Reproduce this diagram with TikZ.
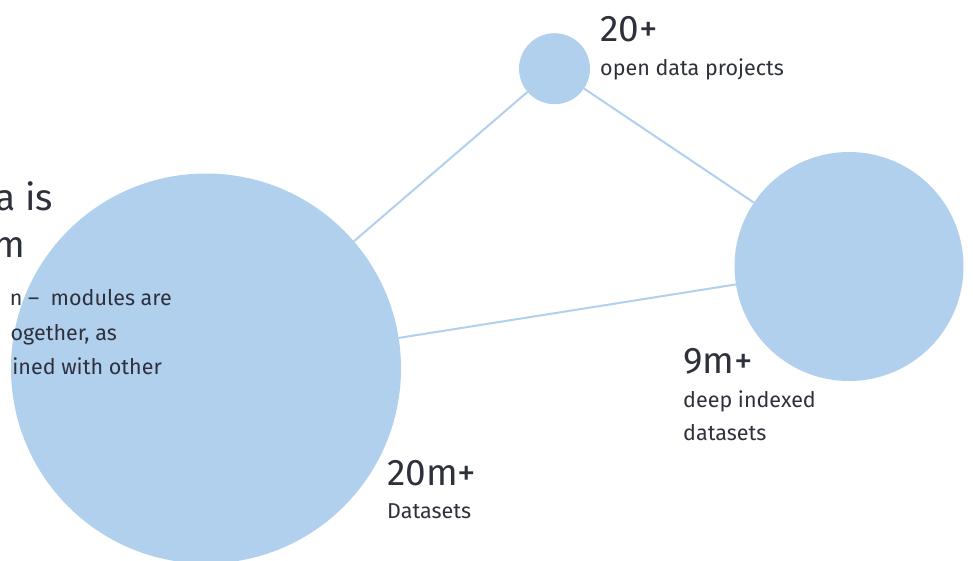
\documentclass[tikz,border=0pt]{standalone}
\usepackage{fontspec}
\setmainfont{Fira Sans}
\definecolor{cblue}{HTML}{B1D0ED}
\definecolor{ink}{HTML}{2E303C}
\begin{document}
\begin{tikzpicture}[x=1pt,y=-1pt,
  bubble/.style={circle,fill=cblue,inner sep=0pt},
  link/.style={draw=cblue,line width=2pt},
  big/.style={text=ink,font=\fontsize{37}{42}\selectfont,inner sep=0pt},
  small/.style={text=ink,font=\fontsize{21.5}{26}\selectfont,inner sep=0pt}]
\useasboundingbox (0,0) rectangle (973,561);
\node[bubble,minimum size=390pt] (bigc) at (206,368.5) {};
\node[bubble,minimum size=71pt] (smallc) at (554.5,68.7) {};
\node[bubble,minimum size=229pt] (rightc) at (849,266.5) {};
\draw[link] (bigc) -- (smallc);
\draw[link] (bigc) -- (rightc);
\draw[link] (smallc) -- (rightc);
% left text block (cut by the page edge)
\node[big,anchor=base east] (t1) at (53,211) {a is};
\node[big,anchor=base east] (t2) at (25,257) {m};
\node[small,anchor=base east] (t3) at (172,305) {n –\ \ modules are};
\node[small,anchor=base east] (t4) at (117,340) {ogether, as};
\node[small,anchor=base east] (t5) at (162,374) {ined with other};
% labels
\node[big,anchor=base west] (n1) at (600,42) {20+};
\node[small,anchor=base west] (l1) at (600,76) {open data projects};
\node[big,anchor=base west] (n2) at (683,373) {9m+};
\node[small,anchor=base west] (l2a) at (683,407) {deep indexed};
\node[small,anchor=base west] (l2b) at (683,440) {datasets};
\node[big,anchor=base west] (n3) at (387,485) {20m+};
\node[small,anchor=base west] (l3) at (387,518) {Datasets};
\end{tikzpicture}
\end{document}
